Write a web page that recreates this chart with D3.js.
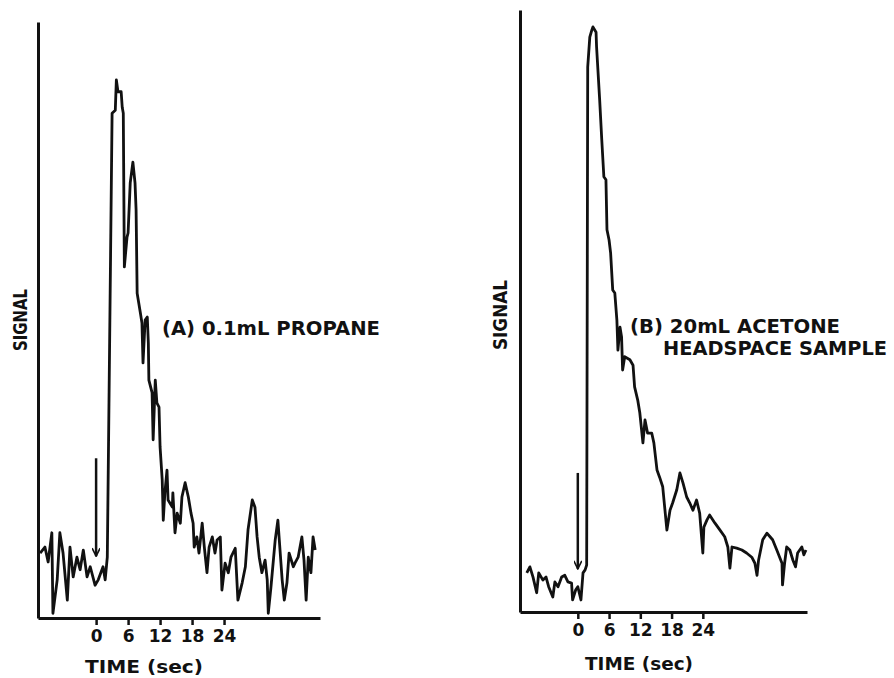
<!DOCTYPE html>
<html>
<head>
<meta charset="utf-8">
<script src="https://cdn.jsdelivr.net/npm/d3@7"></script>
<style>
body { margin: 0; background: #fff; }
svg text { font-family: "DejaVu Sans", sans-serif; font-weight: bold; fill: #111; }
</style>
</head>
<body>
<div id="chart"></div>
<script>
// time (sec) relative to injection, signal in arbitrary units (0-100 = axis height)
var timeTicks = [0, 6, 12, 18, 24];

var propaneTime = [-10.5, -9.6, -9.0, -8.3, -8.1, -7.3, -6.8, -6.2, -5.4, -4.9, -4.3, -3.6, -3.0, -2.4, -1.7, -1.1, -0.2, 0.4, 1.3, 1.7, 2.1,
	2.3, 3.0, 3.6, 3.8, 4.1, 4.7, 4.9, 5.1, 5.3, 5.8, 6.0, 6.4, 6.9, 7.3, 7.5, 7.7, 7.9, 8.3, 8.6, 8.8, 9.2, 9.6, 9.8, 9.9,
	10.5, 10.7, 11.1, 11.4, 11.8, 12.0, 12.4, 12.6, 12.9, 13.3, 13.5, 14.3, 14.4, 14.8, 15.2, 15.8, 16.1, 16.7, 17.3, 17.8,
	18.2, 18.4, 18.9, 19.3, 19.9, 20.3, 20.8, 21.2, 21.8, 22.3, 22.7, 23.3, 23.6, 24.2, 24.8, 25.3, 26.1, 26.6, 27.4, 28.0,
	28.5, 29.3, 29.8, 30.2, 30.6, 31.1, 31.7, 32.1, 32.3, 32.8, 33.6, 34.1, 34.9, 35.3, 35.8, 36.2, 37.0, 37.3, 37.9, 38.6,
	39.0, 39.4, 39.8, 40.3, 40.7, 41.1];
var propaneSignal = [10.9, 11.9, 9.4, 14.3, 0.8, 6.4, 14.3, 10.9, 3.0, 11.9, 6.9, 10.2, 8.1, 11.4, 6.9, 8.6, 5.5, 6.4, 8.6, 6.4, 10.2,
	26.5, 84.7, 85.2, 90.3, 88.3, 88.3, 85.7, 84.7, 58.9, 63.9, 64.6, 73.0, 76.5, 73.0, 68.5, 54.5, 53.4, 51.2, 49.5, 42.8, 50.0, 50.5, 46.1, 39.9,
	37.8, 29.9, 39.9, 36.1, 35.4, 28.7, 23.2, 16.4, 21.0, 24.8, 19.8, 18.6, 21.0, 14.3, 17.6, 15.9, 20.3, 22.7, 20.3, 17.6,
	15.9, 11.9, 13.6, 10.9, 15.9, 11.9, 7.6, 11.9, 13.6, 10.9, 13.1, 13.6, 4.7, 9.2, 7.6, 10.2, 11.7, 3.0, 5.9, 8.6,
	14.8, 19.8, 18.6, 13.6, 10.2, 7.6, 9.7, 6.4, 0.8, 5.2, 13.1, 16.4, 6.4, 3.0, 5.9, 10.9, 8.6, 9.2, 10.2, 13.6,
	9.7, 3.0, 10.2, 7.6, 13.6, 11.4];

var acetoneTime = [-9.8, -9.2, -8.6, -7.9, -7.5, -6.7, -6.1, -5.6, -4.8, -4.4, -3.8, -3.1, -2.5, -1.9, -1.2, -1.0, -0.4, 0.0, 0.6, 1.0, 1.4, 1.7,
	1.9, 2.3, 2.7, 2.9, 3.5, 3.6, 4.2, 4.6, 5.0, 5.4, 5.6, 6.0, 6.3, 6.7, 7.1, 7.5, 7.7, 8.1, 8.4, 8.6, 9.0, 10.0, 10.6, 10.9,
	11.5, 11.9, 12.5, 12.9, 13.4, 14.2, 14.6, 15.2, 15.7, 16.3, 17.1, 17.7, 18.2, 19.0, 19.6, 20.2, 20.9, 21.5, 22.1, 22.8,
	23.4, 24.0, 24.2, 24.8, 25.3, 26.3, 27.3, 28.2, 28.8, 29.2, 29.6, 30.5, 31.5, 32.4, 33.4, 34.0, 34.4, 34.7, 35.5, 36.3,
	36.9, 37.4, 38.2, 39.2, 39.3, 39.7, 40.1, 40.7, 41.3, 41.8, 42.2, 43.0, 43.4, 43.8];
var acetoneSignal = [6.5, 7.5, 5.8, 3.2, 6.5, 5.3, 5.8, 4.2, 2.5, 5.0, 4.2, 5.8, 6.1, 5.0, 4.8, 2.0, 3.7, 4.2, 2.0, 6.5, 7.0, 7.8,
	90.5, 95.5, 96.7, 97.2, 96.3, 93.9, 85.0, 78.4, 72.3, 71.8, 63.5, 61.8, 59.6, 53.5, 53.0, 48.5, 43.5, 47.3, 45.7, 40.2, 42.4, 41.9, 41.0, 37.4,
	35.2, 33.1, 28.1, 31.9, 29.7, 29.7, 28.1, 23.6, 22.4, 20.8, 13.6, 16.9, 18.1, 20.3, 23.1, 21.4, 19.1, 18.1, 16.9, 18.6,
	16.4, 9.8, 14.1, 15.3, 16.1, 14.8, 13.6, 12.5, 10.8, 7.3, 10.8, 10.6, 10.3, 9.8, 9.1, 8.1, 6.1, 8.6, 12.0, 13.1,
	12.5, 12.0, 10.3, 8.1, 4.5, 8.1, 10.8, 10.3, 8.6, 7.5, 9.8, 10.8, 9.5, 10.3];

// injection arrows: [time, top signal, bottom signal]
var propaneArrow = [0, 26.8, 10.2];
var acetoneArrow = [0, 23.1, 7.0];

var width = 894, height = 678;
var svg = d3.select('#chart').append('svg')
	.attr('width', width)
	.attr('height', height);

svg.append('defs').append('marker')
	.attr('id', 'arrowhead')
	.attr('viewBox', '0 0 10 10')
	.attr('refX', 10).attr('refY', 5)
	.attr('markerWidth', 10).attr('markerHeight', 8)
	.attr('markerUnits', 'userSpaceOnUse')
	.attr('orient', 'auto')
	.append('path')
	.attr('d', 'M0,0 L10,5 L0,10')
	.attr('fill', 'none')
	.attr('stroke', '#111')
	.attr('stroke-width', 2);

function addText(g, str, size, len) {
	return g.append('text')
		.attr('textLength', len)
		.attr('lengthAdjust', 'spacingAndGlyphs')
		.style('font-size', size + 'px')
		.text(str);
}

function drawPanel(opt) {
	let x = d3.scaleLinear().domain(opt.tDomain).range([opt.left, opt.right]);
	let y = d3.scaleLinear().domain([0, 100]).range([opt.bottom, opt.top]);
	let g = svg.append('g');

	let xAxis = g.append('g')
		.attr('transform', 'translate(0,' + opt.bottom + ')')
		.call(d3.axisBottom(x).tickValues(timeTicks).tickSize(7).tickSizeOuter(0).tickPadding(5));
	xAxis.select('.domain').attr('stroke-width', 3).attr('stroke', '#111');
	xAxis.selectAll('.tick line').attr('stroke-width', 2.5).attr('stroke', '#111');
	xAxis.selectAll('.tick text')
		.style('font-size', '17px')
		.style('font-family', '"DejaVu Sans", sans-serif')
		.style('font-weight', 'bold')
		.attr('fill', '#111');

	let yAxis = g.append('g')
		.attr('transform', 'translate(' + opt.left + ',0)')
		.call(d3.axisLeft(y).tickValues([]).tickSizeOuter(0));
	yAxis.select('.domain').attr('stroke-width', 3).attr('stroke', '#111');

	let pts = d3.zip(opt.time, opt.signal);
	g.append('path')
		.datum(pts)
		.attr('fill', 'none')
		.attr('stroke', '#111')
		.attr('stroke-width', 2.8)
		.attr('stroke-linejoin', 'round')
		.attr('d', d3.line().x(d => x(d[0])).y(d => y(d[1])));

	g.append('line')
		.attr('x1', x(opt.arrow[0])).attr('x2', x(opt.arrow[0]))
		.attr('y1', y(opt.arrow[1])).attr('y2', y(opt.arrow[2]) - 1)
		.attr('stroke', '#111')
		.attr('stroke-width', 2.5)
		.attr('marker-end', 'url(#arrowhead)');

	addText(g, 'TIME  (sec)', 18, opt.timeLabel[2])
		.attr('x', opt.timeLabel[0]).attr('y', opt.timeLabel[1]);

	addText(g, 'SIGNAL', 19, opt.signalLabel[2])
		.attr('transform', 'translate(' + opt.signalLabel[0] + ',' + opt.signalLabel[1] + ') rotate(-90)')
		.attr('x', -opt.signalLabel[2] / 2);

	opt.notes.forEach(function(n) {
		addText(g, n[0], 20, n[3]).attr('x', n[1]).attr('y', n[2]);
	});
}

drawPanel({
	tDomain: [-10.9, 42.0], left: 38, right: 320, top: 22, bottom: 618,
	time: propaneTime, signal: propaneSignal, arrow: propaneArrow,
	timeLabel: [85, 673, 118], signalLabel: [27, 320, 62],
	notes: [['(A) 0.1mL  PROPANE', 162, 335, 218]]
});

drawPanel({
	tDomain: [-11.1, 44.0], left: 520, right: 807, top: 10, bottom: 612,
	time: acetoneTime, signal: acetoneSignal, arrow: acetoneArrow,
	timeLabel: [585, 670, 108], signalLabel: [507, 315, 70],
	notes: [['(B) 20mL  ACETONE', 630, 333, 210], ['HEADSPACE  SAMPLE', 663, 355, 224]]
});
</script>
</body>
</html>
